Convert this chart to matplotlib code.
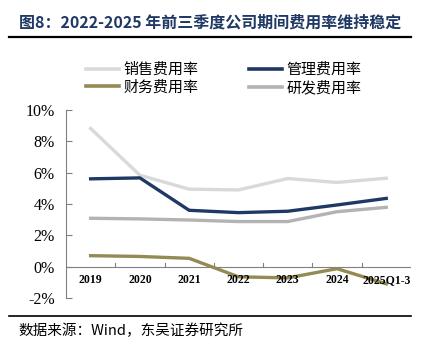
import matplotlib.pyplot as plt
from matplotlib.lines import Line2D

plt.rcParams['font.family'] = ['Noto Sans CJK SC', 'DejaVu Sans']

years = ['2019', '2020', '2021', '2022', '2023', '2024', '2025Q1-3']
sales = [8.83, 5.84, 4.95, 4.90, 5.63, 5.38, 5.65]
admin = [5.61, 5.67, 3.60, 3.45, 3.54, 3.94, 4.36]
finance = [0.70, 0.65, 0.53, -0.65, -0.72, -0.13, -1.10]
rnd = [3.09, 3.05, 2.98, 2.88, 2.88, 3.51, 3.79]

c_sales = '#d9d9d9'
c_admin = '#1f3864'
c_fin = '#948a54'
c_rnd = '#b3b3b3'

fig = plt.figure(figsize=(4.29, 3.53), dpi=100)
ax = fig.add_axes([0.1538, 0.156, 0.804, 0.532])

x = range(len(years))
lw = 2.4
ax.plot(x, sales, color=c_sales, lw=lw)
ax.plot(x, rnd, color=c_rnd, lw=lw)
ax.plot(x, admin, color=c_admin, lw=lw)
ax.plot(x, finance, color=c_fin, lw=lw)

ax.set_xlim(-0.5, 6.5)
ax.set_ylim(-2, 10)
ax.set_yticks([-2, 0, 2, 4, 6, 8, 10])
ax.set_yticklabels([f'{v}%' for v in [-2, 0, 2, 4, 6, 8, 10]],
                   family='Liberation Serif', fontsize=11.5)
ax.tick_params(axis='y', direction='in', length=4, color='#808080', pad=8)

for s in ['top', 'right', 'bottom']:
    ax.spines[s].set_visible(False)
ax.spines['left'].set_color('#808080')
ax.spines['left'].set_linewidth(0.8)
ax.axhline(0, color='#808080', lw=0.8, zorder=1)

# category boundary ticks on the zero line
ax.set_xticks([])
for b in [i + 0.5 for i in range(6)]:
    ax.plot([b, b], [0, 0.25], color='#808080', lw=0.8, zorder=1)
for i, yr in enumerate(years):
    ax.text(i, -0.85, yr, ha='center', va='center', family='Liberation Serif',
            fontweight='bold', fontsize=8.5)

handles = [Line2D([], [], color=c_sales, lw=2.6),
           Line2D([], [], color=c_fin, lw=2.6),
           Line2D([], [], color=c_admin, lw=2.6),
           Line2D([], [], color=c_rnd, lw=2.6)]
labels = ['销售费用率', '财务费用率', '管理费用率', '研发费用率']
fig.legend(handles, labels, ncol=2, loc='upper left', bbox_to_anchor=(0.168, 0.86),
           frameon=False, handlelength=2.2, handletextpad=0.3,
           columnspacing=3.4, labelspacing=0.2, prop={'family': ['Noto Sans CJK SC'], 'size': 10.8})

fig.text(0.044, 0.937, '图8：2022-2025 年前三季度公司期间费用率维持稳定', fontsize=11.5,
         fontweight='bold', color='#1f3864', va='center', ha='left')
fig.add_artist(Line2D([0.021, 0.958], [0.895, 0.895], color='black', lw=1.6))
fig.add_artist(Line2D([0.021, 0.958], [0.105, 0.105], color='black', lw=1.2))
fig.text(0.044, 0.063, '数据来源：Wind，东吴证券研究所', fontsize=10.5, va='center', ha='left')

fig.savefig('out.png', dpi=100)
